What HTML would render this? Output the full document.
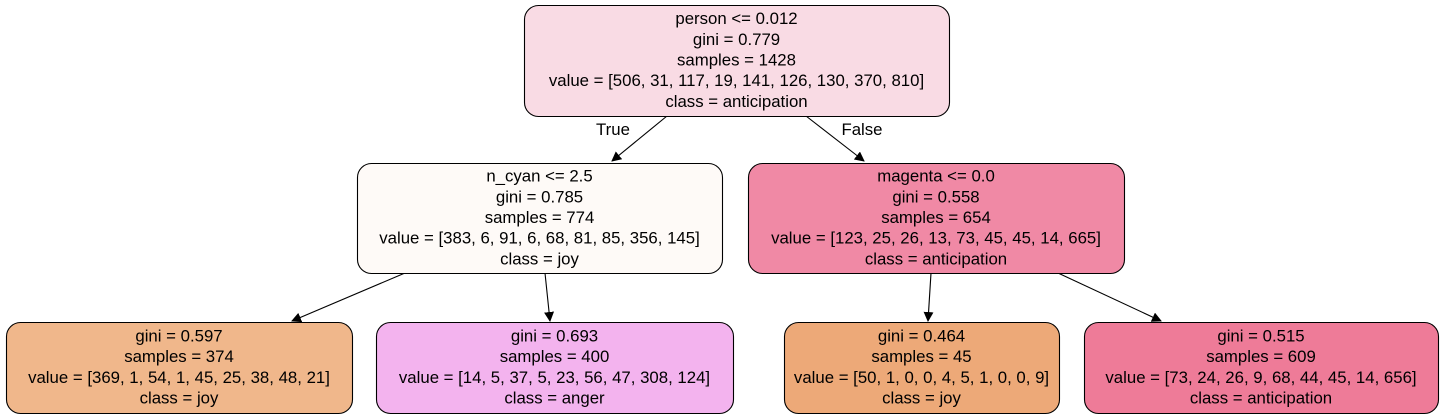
<!DOCTYPE html>
<html><head><meta charset="utf-8"><style>
html,body{margin:0;padding:0;background:#fff;}
svg{display:block;}
text{font-family:"Liberation Sans",Arial,sans-serif;font-size:16.8px;fill:#000;}
</style></head><body>
<svg width="1446" height="419" viewBox="0 0 1446 419">
<defs><marker id="ah" markerWidth="10" markerHeight="10" refX="9" refY="5" orient="auto" markerUnits="userSpaceOnUse"><path d="M0,0 L10,5 L0,10 z" fill="#000"/></marker></defs>
<g id="edges" stroke="#000" stroke-width="1.1" fill="none">
<line x1="667" y1="116" x2="612" y2="161" marker-end="url(#ah)"/>
<line x1="806" y1="116" x2="864" y2="161" marker-end="url(#ah)"/>
<line x1="405" y1="273" x2="292" y2="321" marker-end="url(#ah)"/>
<line x1="545" y1="273" x2="550" y2="321" marker-end="url(#ah)"/>
<line x1="931" y1="273" x2="928" y2="321" marker-end="url(#ah)"/>
<line x1="1058" y1="273" x2="1161" y2="321" marker-end="url(#ah)"/>
</g>
<text x="613" y="135" text-anchor="middle">True</text>
<text x="862" y="135" text-anchor="middle">False</text>
<g id="nodes"></g>
</svg>
<script>
const nodeNames=['root-node','left-node','right-node','leaf-joy-1','leaf-anger','leaf-joy-2','leaf-anticipation'];
const nodeBoxes=[[524,5,425,111],[357,163,365,110],[748,163,376,110],[6,322,346,91],[376,322,357,91],[784,322,275,91],[1084,322,354,91]];
const nodeFills=['#f9dbe4','#fefaf7','#f089a5','#f0b78b','#f3b3ee','#eda978','#ee7b98'];
const nodeLines=[
['person <= 0.012','gini = 0.779','samples = 1428','value = [506, 31, 117, 19, 141, 126, 130, 370, 810]','class = anticipation'],
['n_cyan <= 2.5','gini = 0.785','samples = 774','value = [383, 6, 91, 6, 68, 81, 85, 356, 145]','class = joy'],
['magenta <= 0.0','gini = 0.558','samples = 654','value = [123, 25, 26, 13, 73, 45, 45, 14, 665]','class = anticipation'],
['gini = 0.597','samples = 374','value = [369, 1, 54, 1, 45, 25, 38, 48, 21]','class = joy'],
['gini = 0.693','samples = 400','value = [14, 5, 37, 5, 23, 56, 47, 308, 124]','class = anger'],
['gini = 0.464','samples = 45','value = [50, 1, 0, 0, 4, 5, 1, 0, 0, 9]','class = joy'],
['gini = 0.515','samples = 609','value = [73, 24, 26, 9, 68, 44, 45, 14, 656]','class = anticipation']];
const NS='http://www.w3.org/2000/svg';
const g=document.getElementById('nodes');
nodeBoxes.forEach((b,i)=>{
  const grp=document.createElementNS(NS,'g');
  
  
  const r=document.createElementNS(NS,'rect');
  r.setAttribute('x',b[0]+0.5);r.setAttribute('y',b[1]+0.5);
  r.setAttribute('width',b[2]);r.setAttribute('height',b[3]);
  r.setAttribute('rx',14);r.setAttribute('fill',nodeFills[i]);
  r.setAttribute('stroke','#000');r.setAttribute('stroke-width','1.1');
  
  
  grp.appendChild(r);
  const lines=nodeLines[i];
  const lh=20.7;
  const cy=b[1]+b[3]/2;
  const start=cy-(lines.length-1)*lh/2;
  lines.forEach((s,j)=>{
    const t=document.createElementNS(NS,'text');
    t.setAttribute('x',b[0]+b[2]/2);
    t.setAttribute('y',start+j*lh+5);
    t.setAttribute('text-anchor','middle');
    
    
    t.textContent=s;
    grp.appendChild(t);
  });
  g.appendChild(grp);
});
</script>
</body></html>
